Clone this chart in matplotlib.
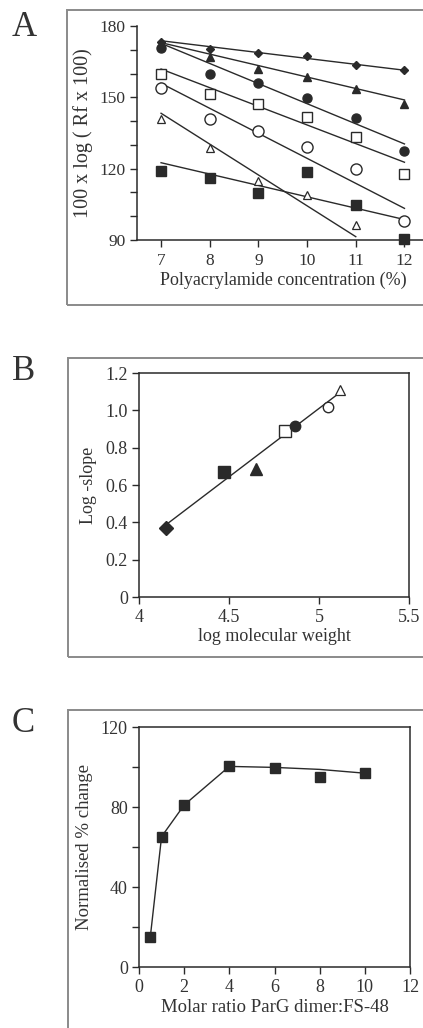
import numpy as np
import matplotlib
matplotlib.use("Agg")
import matplotlib.pyplot as plt
from matplotlib.patches import Rectangle

plt.rcParams['font.family'] = ['Liberation Serif', 'DejaVu Serif']
ink = '#2a2a2a'
txt = '#333333'

# ---------------- panel A data: 100 x log(Rf x 100) vs gel %
conc = [7, 8, 9, 10, 11, 12]
a_diamond = [173.4, 170.3, 168.5, 167.4, 163.5, 161.4]
a_tri_f = [172.5, 166.8, 162.0, 158.5, 153.6, 147.2]
a_circ_f = [170.9, 159.8, 156.0, 149.6, 141.2, 127.4]
a_sq_o = [159.7, 151.4, 147.2, 141.6, 133.5, 117.6]
a_circ_o = [154.1, 140.7, 135.8, 129.2, 120.0, 98.0]
a_tri_o = [141.0, 128.5, 114.8, 109.0, 96.2]
a_sq_f = [119.2, 116.2, 109.9, 118.6, 104.9, 90.6]

# fitted lines (start value, end value)
fit_x = {'d': (7, 12), 'tf': (7, 12), 'cf': (7, 12), 'so': (7, 12),
         'co': (7, 12), 'to': (7, 11), 'sf': (7, 12)}
fit_y = {'d': (173.8, 161.4), 'tf': (173.0, 148.9), 'cf': (172.7, 130.4),
         'so': (161.9, 122.7), 'co': (155.9, 103.3), 'to': (143.3, 91.4),
         'sf': (122.5, 98.6)}

# ---------------- panel B data: log(-slope) vs log MW
b_x = [4.152, 4.470, 4.648, 4.809, 4.869, 5.052, 5.115]
b_y = [0.369, 0.669, 0.684, 0.891, 0.918, 1.020, 1.110]
b_line_x = [4.15, 5.124]
b_line_y = [0.387, 1.101]

# ---------------- panel C data: titration
c_x = [0.5, 1, 2, 4, 6, 8, 10]
c_y = [15.0, 65.2, 81.0, 100.3, 99.6, 94.9, 96.9]
c_curve_x = [0.5, 1, 2, 4, 6, 8, 10]
c_curve_y = [15.0, 65.2, 81.0, 100.3, 99.8, 98.8, 96.9]

W, H = 423, 1028
fig = plt.figure(figsize=(W / 100, H / 100), dpi=100)


def ax_at(l, t, r, b):
    return fig.add_axes([l / W, 1 - b / H, (r - l) / W, (b - t) / H])


def style(ax, fs):
    ax.tick_params(colors=ink, labelcolor=txt, labelsize=fs, width=1.0,
                   length=5, direction='out', pad=3)
    ax.tick_params(axis='x', pad=4)
    for s in ax.spines.values():
        s.set_color(ink)
        s.set_linewidth(1.1)


# frames around each panel
for (l, t, b) in [(67, 10, 305), (68, 358, 657), (68, 710, 1040)]:
    fig.patches.append(Rectangle((l / W, 1 - b / H), (W + 20 - l) / W, (b - t) / H,
                                 transform=fig.transFigure, fill=False,
                                 edgecolor='#8a8a8a', linewidth=1.4))

for lab, y in [('A', 27), ('B', 371), ('C', 724)]:
    fig.text(12 / W, 1 - y / H, lab, fontsize=25, color=txt, va='center', ha='left')

# ---------------- A
ax = ax_at(137, 26, 440, 240)
style(ax, 12.5)
ax.spines['top'].set_visible(False)
ax.spines['right'].set_visible(False)
ax.set_xlim(6.506, 12.73)
ax.set_ylim(90, 180)
ax.set_xticks(conc)
ax.set_yticks(np.arange(90, 181, 10))
ax.set_yticklabels(['90', '', '', '120', '', '', '150', '', '', '180'])
for k in fit_x:
    ax.plot(fit_x[k], fit_y[k], color=ink, lw=1.0)
mk = dict(color=ink, linestyle='none', clip_on=False)
ax.plot(conc, a_diamond, marker='D', ms=4.5, **mk)
ax.plot(conc, a_tri_f, marker='^', ms=5.5, **mk)
ax.plot(conc, a_circ_f, marker='o', ms=6.5, **mk)
ax.plot(conc, a_sq_o, marker='s', ms=7.5, mfc='white', mew=1.0, **mk)
ax.plot(conc, a_circ_o, marker='o', ms=8, mfc='white', mew=1.0, **mk)
ax.plot(conc[:5], a_tri_o, marker='^', ms=6, mfc='white', mew=0.9, **mk)
ax.plot(conc, a_sq_f, marker='s', ms=7.5, **mk)
ax.set_xlabel('Polyacrylamide concentration (%)', fontsize=13, color=txt)
ax.xaxis.set_label_coords((283 - 137) / (440 - 137), -32 / 214)
ax.set_ylabel('100 x log ( Rf x 100)', fontsize=14.5, color=txt, labelpad=5)

# ---------------- B
ax = ax_at(139, 373, 409, 597)
style(ax, 13)
ax.set_xlim(4, 5.5)
ax.set_ylim(0, 1.2)
ax.set_xticks([4, 4.5, 5, 5.5])
ax.set_xticklabels(['4', '4.5', '5', '5.5'])
ax.set_yticks([0, 0.2, 0.4, 0.6, 0.8, 1.0, 1.2])
ax.set_yticklabels(['0', '0.2', '0.4', '0.6', '0.8', '1.0', '1.2'])
ax.plot(b_line_x, b_line_y, color=ink, lw=1.0)
ax.plot(b_x[0], b_y[0], marker='D', ms=7, **mk)
ax.plot(b_x[1], b_y[1], marker='s', ms=8.5, **mk)
ax.plot(b_x[2], b_y[2], marker='^', ms=8.5, **mk)
ax.plot(b_x[3], b_y[3], marker='s', ms=8.5, mfc='white', mew=1.0, **mk)
ax.plot(b_x[4], b_y[4], marker='o', ms=7.5, **mk)
ax.plot(b_x[5], b_y[5], marker='o', ms=7.5, mfc='white', mew=1.0, **mk)
ax.plot(b_x[6], b_y[6], marker='^', ms=7, mfc='white', mew=0.9, **mk)
ax.set_xlabel('log molecular weight', fontsize=13, color=txt, labelpad=1)
ax.set_ylabel('Log -slope', fontsize=13, color=txt, labelpad=6)

# ---------------- C
ax = ax_at(139, 727, 410, 967)
style(ax, 13)
ax.set_xlim(0, 12)
ax.set_ylim(0, 120)
ax.set_xticks(range(0, 13, 2))
ax.set_yticks(range(0, 121, 20))
ax.set_yticklabels(['0', '', '40', '', '80', '', '120'])
ax.plot(c_curve_x, c_curve_y, color=ink, lw=1.0)
ax.plot(c_x, c_y, marker='s', ms=6.5, **mk)
ax.set_xlabel('Molar ratio ParG dimer:FS-48', fontsize=13.5, color=txt, labelpad=2)
ax.set_ylabel('Normalised % change', fontsize=13.5, color=txt, labelpad=6)

fig.savefig('out.png', dpi=100)
